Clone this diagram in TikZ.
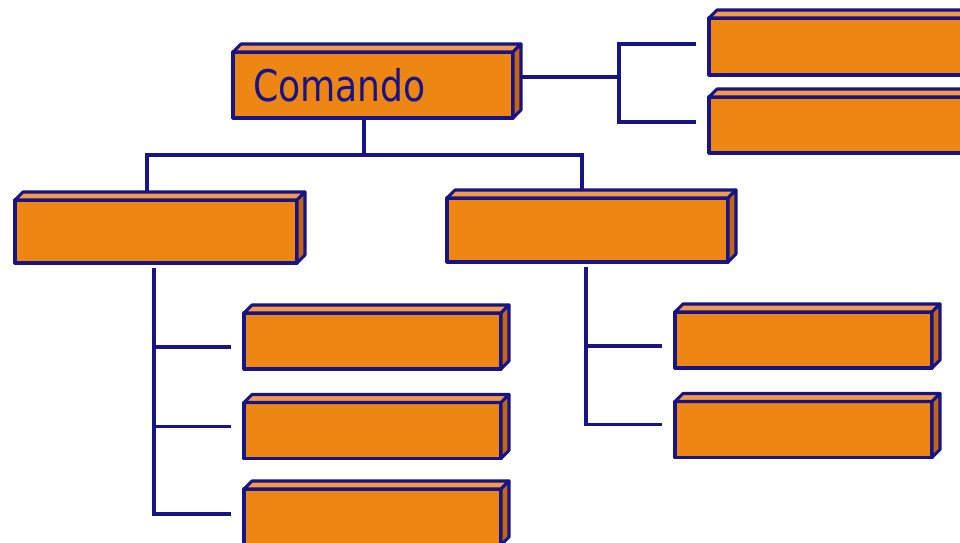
\documentclass[tikz,border=0pt]{standalone}
\usepackage{fontspec}
\usetikzlibrary{backgrounds}
\newfontfamily\cmdfont[FakeStretch=0.83]{DejaVu Sans}
\definecolor{navy}{RGB}{22,20,135}
\definecolor{boxorange}{RGB}{238,134,20}
\definecolor{boxtop}{RGB}{242,154,69}
\definecolor{boxside}{RGB}{195,102,15}
\def\px{0.025cm}
\begin{document}
\begin{tikzpicture}[
    x=0.025cm, y=-0.025cm,
    box/.style={rectangle, draw=navy, fill=boxorange, line width=2.2pt, line join=round, outer sep=0pt, inner sep=0pt},
    bigbox/.style={box, minimum width=281*\px, minimum height=64*\px},
    smallbox/.style={box, minimum width=257*\px, minimum height=56*\px},
    topface/.style={draw=navy, fill=boxtop, line width=2.2pt, line join=round},
    sideface/.style={draw=navy, fill=boxside, line width=2.2pt, line join=round},
    link/.style={draw=navy, line width=2.2pt}
]
\useasboundingbox (0,0) rectangle (960,542);

% Top level
\node[box, minimum width=280*\px, minimum height=66*\px, inner xsep=20*\px, text width=240*\px, align=left, font=\cmdfont\fontsize{31pt}{36pt}\selectfont, text=navy] (cmd) at (373,85) {Comando};

% Right of the top box
\node[bigbox, minimum height=57*\px] (r1) at (849.5,46.5) {};
\node[bigbox, minimum height=56*\px] (r2) at (849.5,125) {};

% Second level
\node[bigbox, minimum width=282*\px, minimum height=63*\px] (l) at (156,231.5) {};
\node[bigbox] (m) at (587.5,230) {};

% Third level, left column
\node[smallbox] (a1) at (372.5,341) {};
\node[smallbox] (a2) at (372.5,430.5) {};
\node[smallbox] (a3) at (372.5,517) {};

% Third level, right column
\node[smallbox] (b1) at (803.5,340) {};
\node[smallbox] (b2) at (803.5,429.5) {};

% 3D faces
\foreach \n in {cmd,r1,r2,l,m,a1,a2,a3,b1,b2}{
  \path[topface] (\n.north west) -- ++(8,-8) -- ([shift={(8,-8)}]\n.north east) -- (\n.north east) -- cycle;
  \path[sideface] (\n.north east) -- ++(8,-8) -- ([shift={(8,-8)}]\n.south east) -- (\n.south east) -- cycle;
}

% Connectors
\begin{pgfonlayer}{background}
\coordinate (jc) at (364,155);
\coordinate (jl) at (147,155);
\coordinate (jm) at (582,155);
\draw[link] (cmd.south -| jc) -- (jc);
\draw[link] (jl |- l.north) -- (jl) -- (jm) -- (jm |- m.north);

\coordinate (rj) at (619,77);
\draw[link] ([shift={(8,-8)}]cmd.east) -- (rj);
\draw[link] ([shift={(-13,-2.5)}]r1.west) -| (rj) |- ([shift={(-13,-3)}]r2.west);

\coordinate (lbus) at (154,268);
\draw[link] (lbus) |- ([shift={(-13,-3)}]a3.west);
\draw[link] ([yshift=-6*\px]lbus |- a1.west) -- ([shift={(-13,6)}]a1.west);
\draw[link] ([yshift=4*\px]lbus |- a2.west) -- ([shift={(-13,-4)}]a2.west);

\coordinate (mbus) at (586,267);
\draw[link] (mbus) |- ([shift={(-13,-5)}]b2.west);
\draw[link] ([yshift=-6*\px]mbus |- b1.west) -- ([shift={(-13,6)}]b1.west);
\end{pgfonlayer}

\end{tikzpicture}
\end{document}
